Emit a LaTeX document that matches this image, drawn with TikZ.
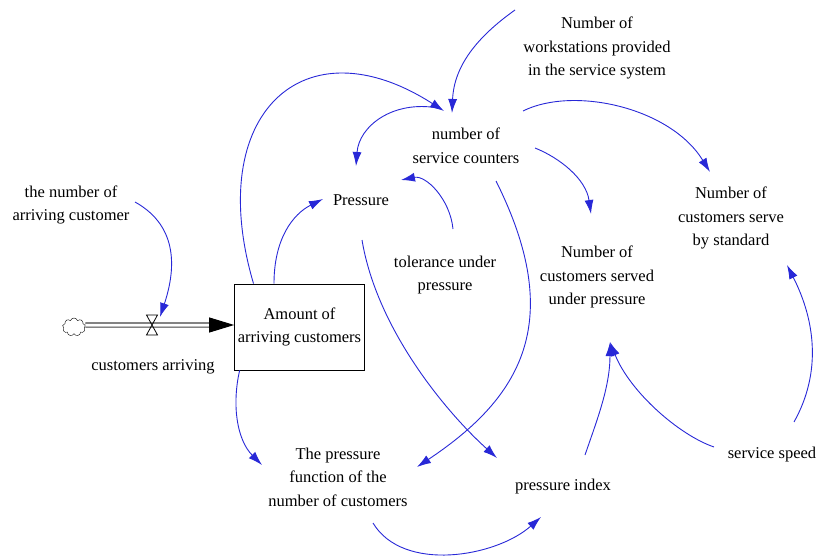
\documentclass[tikz,border=0pt]{standalone}
\usepackage{fontspec}
\setmainfont{Liberation Serif}
\usetikzlibrary{arrows.meta,shapes.symbols}

\definecolor{linkblue}{RGB}{40,40,215}

\begin{document}
\begin{tikzpicture}[x=1pt, y=1pt,
    font=\fontsize{16.5}{23.5}\selectfont,
    var/.style={align=center, inner sep=2pt},
    link/.style={draw=linkblue, line width=0.9pt, -{Latex[length=14pt,width=9pt]}},
    pipe/.style={draw=black!75, line width=1.2pt, double=white, double distance=3pt},
    flowtip/.style={black, line width=1pt, -{Triangle[length=25pt,width=15pt]}}]
  \useasboundingbox (0,0) rectangle (817,558);

  % stock, flow and its cloud
  \node[draw, line width=0.8pt, minimum width=128pt, minimum height=86pt, align=center] (stock) at (299.5,231) {Amount of\\arriving customers};
  \node[cloud, draw, cloud puffs=9, minimum width=23pt, minimum height=18pt, inner sep=0pt] (source) at (74,231) {};
  \coordinate (valve) at (152,233);
  \draw[pipe] ([yshift=2pt]source.east) -- ([shift={(-22,2)}]stock.west);
  \draw[flowtip] ([shift={(-25,2)}]stock.west) -- ([yshift=2pt]stock.west);
  \draw[line width=0.8pt] (valve) ++(-5.5,10) -- ++(11,0) -- ++(-11,-20) -- ++(11,0) -- cycle;
  \node[var] (arrflow) at (153,191) {customers arriving};
  \node[var] (numarr) at (71,353) {the number of\\arriving customer};

  % auxiliaries
  \node[var] (workst) at (597,510) {Number of\\workstations provided\\in the service system};
  \node[var] (counters) at (466,412) {number of\\service counters};
  \node[var] (press) at (361,358) {Pressure};
  \node[var] (toler) at (445,283) {tolerance under\\pressure};
  \node[var] (servedp) at (597,281) {Number of\\customers served\\under pressure};
  \node[var] (servstd) at (731,340) {Number of\\customers serve\\by standard};
  \node[var] (pfunc) at (338,81) {The pressure\\function of the\\number of customers};
  \node[var] (pindex) at (563,71) {pressure index};
  \node[var] (speed) at (772,103) {service speed};

  % links
  \draw[link] ([shift={(64,3)}]numarr.center) .. controls +(45,-25) and +(15,45) .. ([shift={(8,8)}]valve);
  \draw[link] ([shift={(-82,38)}]workst.center) .. controls +(-38,-27) and +(2,47) .. ([shift={(-14,33)}]counters.center);
  \draw[link] ([xshift=-46pt]stock.north) .. controls +(-50,170) and +(-140,90) .. ([shift={(-22,35)}]counters.center);
  \draw[link] ([shift={(-28,38)}]counters.center) .. controls +(-45,8) and +(3,40) .. ([shift={(-5,34)}]press.center);
  \draw[link] ([xshift=-25.5pt]stock.north) .. controls +(0,45) and +(-30,-15) .. ([shift={(-38,1)}]press.center);
  \draw[link] ([shift={(8,46)}]toler.center) .. controls +(-3,30) and +(25,5) .. ([shift={(40,20)}]press.center);
  \draw[link] ([shift={(69,-2)}]counters.center) .. controls +(25,-10) and +(-5,35) .. ([shift={(-6,63)}]servedp.center);
  \draw[link] ([shift={(57,35)}]counters.center) .. controls +(50,25) and +(-40,65) .. ([shift={(-21,46)}]servstd.center);
  \draw[link] ([shift={(30,-35)}]counters.center) .. controls +(70,-140) and +(105,70) .. ([shift={(79,10)}]pfunc.center);
  \draw[link] ([shift={(1,-40)}]press.center) .. controls +(15,-90) and +(-50,45) .. ([shift={(-66,29)}]pindex.center);
  \draw[link] ([xshift=5.5pt]stock.south west) .. controls +(-8,-35) and +(-25,25) .. ([shift={(-76,12)}]pfunc.center);
  \draw[link] ([shift={(35,-46)}]pfunc.center) .. controls +(30,-50) and +(-45,-40) .. ([shift={(-22,-30)}]pindex.center);
  \draw[link] ([shift={(22,32)}]pindex.center) .. controls +(12,35) and +(0,-45) .. ([shift={(13,-65)}]servedp.center);
  \draw[link] ([shift={(-58,8)}]speed.center) .. controls +(-35,12) and +(20,-50) .. ([shift={(13,-65)}]servedp.center);
  \draw[link] ([shift={(22,33)}]speed.center) .. controls +(28,50) and +(28,-55) .. ([shift={(56,-47)}]servstd.center);
\end{tikzpicture}
\end{document}
